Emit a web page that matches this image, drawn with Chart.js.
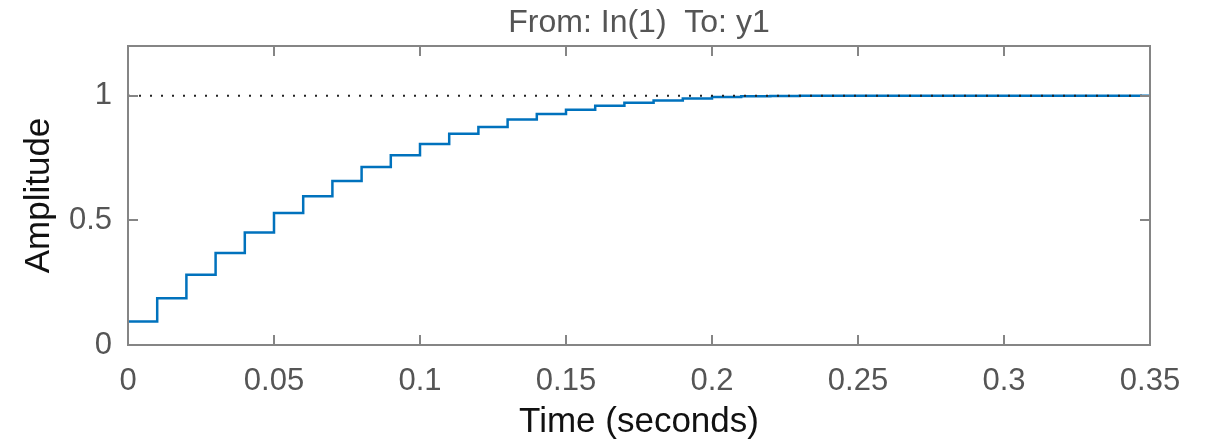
<!DOCTYPE html>
<html>
<head>
<meta charset="utf-8">
<script src="https://cdn.jsdelivr.net/npm/chart.js"></script>
<style>
    body { margin: 0; background: #fff; }
</style>
</head>
<body>
<canvas id="step-response" width="1210" height="440"></canvas>
<script>
const times = [0, 0.01, 0.02, 0.03, 0.04, 0.05, 0.06, 0.07, 0.08, 0.09,
    0.10, 0.11, 0.12, 0.13, 0.14, 0.15, 0.16, 0.17, 0.18, 0.19,
    0.20, 0.21, 0.22, 0.23, 0.24, 0.25, 0.26, 0.27, 0.28, 0.29,
    0.30, 0.31, 0.32, 0.33, 0.34, 0.35];
const amplitude = [0.094, 0.188, 0.282, 0.369, 0.452, 0.530, 0.597, 0.658, 0.714, 0.762,
    0.807, 0.848, 0.875, 0.905, 0.927, 0.944, 0.960, 0.972, 0.981, 0.989,
    0.995, 0.998, 0.999, 1, 1, 1, 1, 1, 1, 1,
    1, 1, 1, 1, 1, 1];
const finalValue = [1, 1];
const finalTimes = [0, 0.35];

const xTicks = [0, 0.05, 0.1, 0.15, 0.2, 0.25, 0.3, 0.35];
const xTickLabels = ["0", "0.05", "0.1", "0.15", "0.2", "0.25", "0.3", "0.35"];
const yTicks = [0, 0.5, 1];
const yTickLabels = ["0", "0.5", "1"];

const titleText = "From: In(1)  To: y1";
const frameColor = "#858585";
const fontFamily = "'Liberation Sans', Arial, sans-serif";

// box around the plot with ticks pointing inward, like matlab
const framePlugin = {
    id: "frame",
    afterDatasetsDraw(chart) {
        const { ctx, chartArea } = chart;
        const { left, right, top, bottom } = chartArea;
        const xs = chart.scales.x;
        const ys = chart.scales.y;
        const len = 10;

        ctx.save();
        ctx.strokeStyle = frameColor;
        ctx.lineWidth = 2;
        ctx.strokeRect(left, top, right - left, bottom - top);

        ctx.beginPath();
        xTicks.forEach(v => {
            const px = Math.round(xs.getPixelForValue(v));
            ctx.moveTo(px, bottom);
            ctx.lineTo(px, bottom - len);
            ctx.moveTo(px, top);
            ctx.lineTo(px, top + len);
        });
        yTicks.forEach(v => {
            const py = Math.round(ys.getPixelForValue(v));
            ctx.moveTo(left, py);
            ctx.lineTo(left + len, py);
            ctx.moveTo(right, py);
            ctx.lineTo(right - len, py);
        });
        ctx.stroke();

        ctx.fillStyle = "#555";
        ctx.font = "32px " + fontFamily;
        ctx.textAlign = "center";
        ctx.textBaseline = "middle";
        ctx.fillText(titleText, (left + right) / 2, 23);
        ctx.restore();
    }
};

new Chart(document.getElementById("step-response"), {
    type: "line",
    data: {
        datasets: [
            {
                label: "final value",
                data: finalTimes.map((t, i) => ({ x: t, y: finalValue[i] })),
                borderColor: "#222",
                borderWidth: 2,
                borderDash: [2, 9],
                pointRadius: 0
            },
            {
                label: "y1",
                data: times.map((t, i) => ({ x: t, y: amplitude[i] })),
                borderColor: "#0072BD",
                borderWidth: 2.5,
                stepped: "before",
                pointRadius: 0
            }
        ]
    },
    options: {
        responsive: false,
        animation: false,
        layout: { padding: { top: 46, right: 60, left: 0, bottom: 0 } },
        plugins: {
            legend: { display: false },
            tooltip: { enabled: false }
        },
        scales: {
            x: {
                type: "linear",
                min: 0,
                max: 0.35,
                grid: { display: false, drawTicks: false },
                border: { display: false },
                afterBuildTicks: scale => { scale.ticks = xTicks.map(v => ({ value: v })); },
                afterFit: scale => { scale.height = 95; },
                ticks: {
                    padding: 18,
                    color: "#555",
                    font: { family: fontFamily, size: 31 },
                    maxRotation: 0,
                    callback: (v) => xTickLabels[xTicks.indexOf(v)] ?? ""
                },
                title: {
                    display: true,
                    text: "Time (seconds)",
                    color: "#111",
                    font: { family: fontFamily, size: 35, lineHeight: 1 },
                    padding: { top: 0, bottom: 0 }
                }
            },
            y: {
                min: 0,
                max: 1.2,
                grid: { display: false, drawTicks: false },
                border: { display: false },
                afterBuildTicks: scale => { scale.ticks = yTicks.map(v => ({ value: v })); },
                afterFit: scale => { scale.width = 128; },
                ticks: {
                    padding: 16,
                    color: "#555",
                    font: { family: fontFamily, size: 31 },
                    callback: (v) => yTickLabels[yTicks.indexOf(v)] ?? ""
                },
                title: {
                    display: true,
                    text: "Amplitude",
                    color: "#111",
                    font: { family: fontFamily, size: 35, lineHeight: 1 },
                    padding: { top: 22, bottom: 0 }
                }
            }
        }
    },
    plugins: [framePlugin]
});
</script>
</body>
</html>
